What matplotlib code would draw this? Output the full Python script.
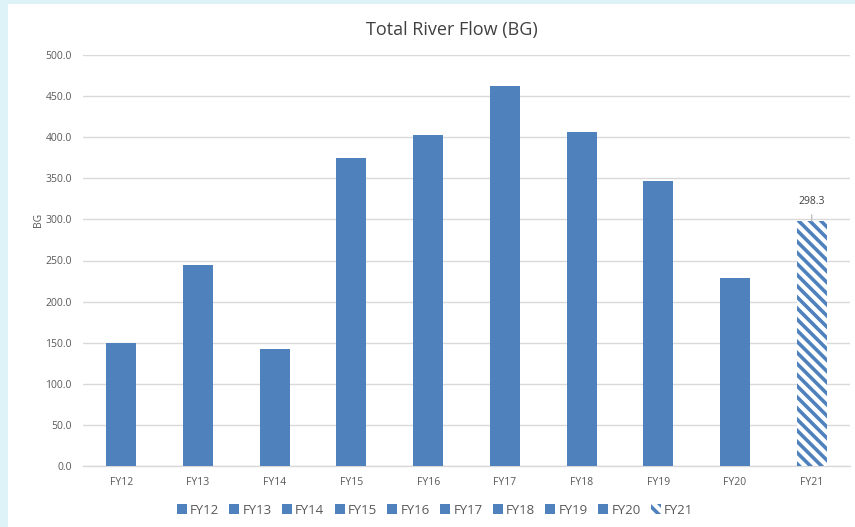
import matplotlib
matplotlib.use("Agg")
import matplotlib.pyplot as plt
from matplotlib.patches import Rectangle, Patch

plt.rcParams['font.family'] = ['Open Sans', 'DejaVu Sans']
plt.rcParams['hatch.linewidth'] = 2.6

categories = ["FY12", "FY13", "FY14", "FY15", "FY16", "FY17", "FY18", "FY19", "FY20", "FY21"]
flow_bg = [149.6, 244.6, 142.3, 374.8, 402.5, 462.3, 406.3, 346.5, 228.8, 298.3]
y_ticks = [0, 50, 100, 150, 200, 250, 300, 350, 400, 450, 500]

blue = "#4f81bd"
grey_text = "#595959"
stripe = "\\\\\\"

fig = plt.figure(figsize=(8.55, 5.27), dpi=100, facecolor="#ddf3f7")
panel = Rectangle((8 / 855, 0), 1, 1 - 4 / 527, transform=fig.transFigure,
                  facecolor="white", edgecolor="none", zorder=-10)
fig.patches.append(panel)

ax = fig.add_axes([83 / 855, 1 - 466 / 527, (850 - 83) / 855, (466 - 55) / 527])
ax.set_facecolor("white")
ax.set_zorder(1)

x = list(range(len(categories)))
bars = ax.bar(x[:-1], flow_bg[:-1], width=0.39, color=blue, zorder=3)
last = ax.bar(x[-1], flow_bg[-1], width=0.39, facecolor="white", edgecolor=blue,
              hatch=stripe, linewidth=0, zorder=3)

ax.set_xlim(-0.5, len(categories) - 0.5)
ax.set_ylim(0, 500)
ax.set_yticks(y_ticks)
ax.set_yticklabels([f"{v:.1f}" for v in y_ticks])
ax.set_xticks(x)
ax.set_xticklabels(categories)
ax.grid(axis="y", color="#d9d9d9", linewidth=1, zorder=0)
ax.set_axisbelow(True)
ax.tick_params(axis="both", length=0, labelsize=7.5, colors=grey_text, pad=8)
for s in ["top", "right", "left"]:
    ax.spines[s].set_visible(False)
ax.spines["bottom"].set_color("#d9d9d9")
ax.spines["bottom"].set_linewidth(1)

# axis title sits right beside the tick labels
fig.text(38 / 855, 1 - 220 / 527, "BG", rotation=90, ha="center", va="center",
         fontsize=7.5, color=grey_text)

# value label for the final year with a short leader line
v = flow_bg[-1]
ax.annotate(f"{v:.1f}", xy=(x[-1], v), xytext=(x[-1], v + 24), ha="center", va="center",
            fontsize=7.5, color="#404040",
            arrowprops=dict(arrowstyle="-", color="#bfbfbf", lw=1, shrinkA=4, shrinkB=0))

fig.text(452 / 855, 1 - 30 / 527, "Total River Flow (BG)", ha="center", va="center",
         fontsize=13, color="#404040")

handles = [Patch(facecolor=blue, edgecolor="none") for _ in categories[:-1]]
handles.append(Patch(facecolor="white", edgecolor=blue, hatch=stripe, linewidth=0))
fig.legend(handles, categories, loc="center", bbox_to_anchor=(435 / 855, 1 - 510 / 527),
           ncol=len(categories), frameon=False, fontsize=9.5, handlelength=0.75,
           handleheight=0.75, handletextpad=0.25, columnspacing=0.78,
           labelcolor=grey_text)

fig.savefig("out.png", dpi=100, facecolor=fig.get_facecolor())
